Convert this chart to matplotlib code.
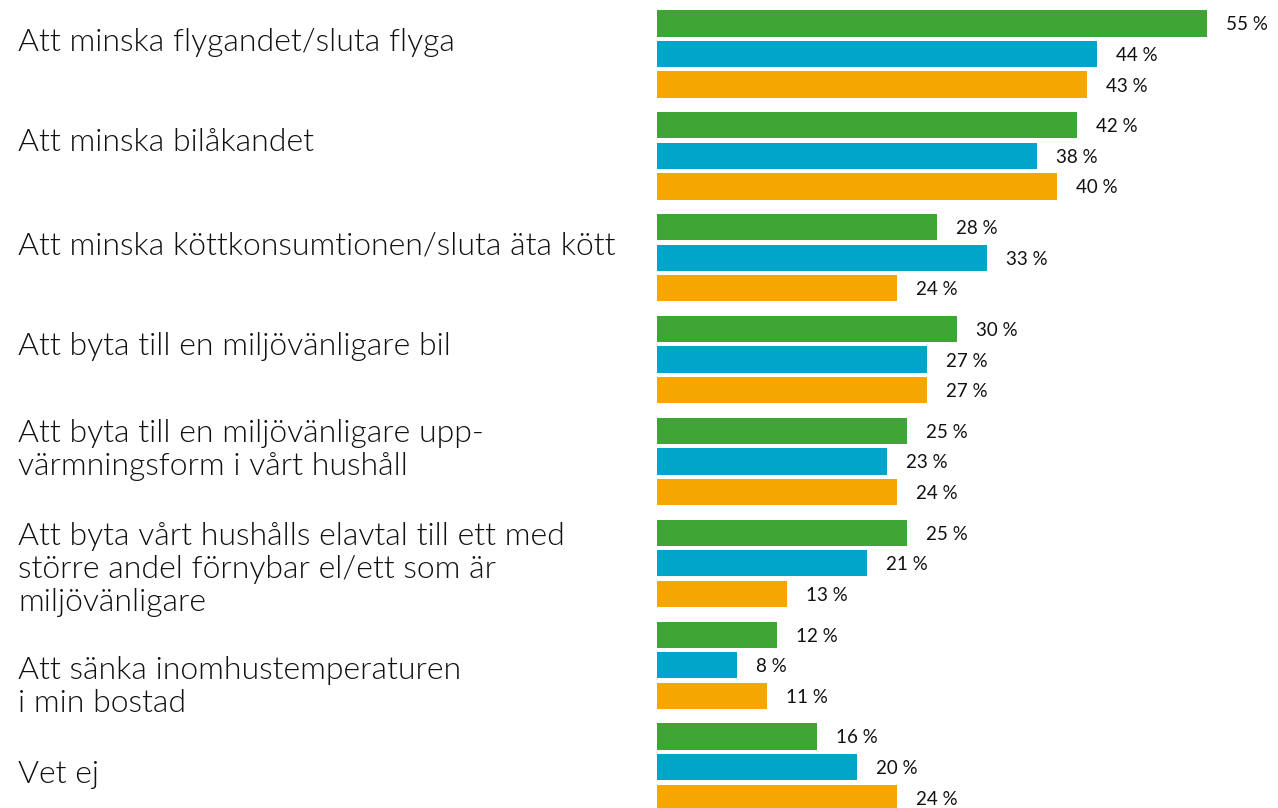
import matplotlib
matplotlib.use("Agg")
import matplotlib.pyplot as plt
from matplotlib import font_manager
from matplotlib.font_manager import FontProperties
import numpy as np

categories = [
    "Att minska flygandet/sluta flyga",
    "Att minska bilåkandet",
    "Att minska köttkonsumtionen/sluta äta kött",
    "Att byta till en miljövänligare bil",
    "Att byta till en miljövänligare upp-\nvärmningsform i vårt hushåll",
    "Att byta vårt hushålls elavtal till ett med\nstörre andel förnybar el/ett som är\nmiljövänligare",
    "Att sänka inomhustemperaturen\ni min bostad",
    "Vet ej",
]
series_green = [55, 42, 28, 30, 25, 25, 12, 16]
series_blue = [44, 38, 33, 27, 23, 21, 8, 20]
series_orange = [43, 40, 24, 27, 24, 13, 11, 24]

colors = ["#3FA535", "#00A5C9", "#F5A600"]

# layout (pixels): first-line baseline of each category label relative to group centre
label_baseline_px = [-3, -5, -3, -5, -19, -18, 14, 16]
line_step_px = 33
group_px = 101.86

paths = {}
for f in font_manager.fontManager.ttflist:
    for key in ("Lato-Light.ttf", "Lato-Regular.ttf"):
        if f.fname.endswith(key):
            paths[key] = f.fname

def fp(size, key):
    if key in paths:
        return FontProperties(fname=paths[key], size=size)
    return FontProperties(family="DejaVu Sans", size=size)

fig = plt.figure(figsize=(12.78, 8.08), dpi=100)
ax = fig.add_axes([657 / 1278, 0, 621 / 1278, 1])
ax.set_xlim(0, 62.1)
ax.set_ylim(7.402, -0.530)
ax.axis("off")

y = np.arange(len(categories))
offsets = [-0.3, 0.0, 0.3]
h = 0.257
for vals, off, c in zip([series_green, series_blue, series_orange], offsets, colors):
    ax.barh(y + off, vals, height=h, color=c, edgecolor="none")
    for yi, v in zip(y, vals):
        ax.text(v + 1.9, yi + off + 7 / group_px, f"{v} %", va="baseline", ha="left",
                fontproperties=fp(13.5, "Lato-Regular.ttf"), color="#111111")

for yi, lab, b in zip(y, categories, label_baseline_px):
    for k, line in enumerate(lab.split("\n")):
        ax.annotate(line, xy=(18 / 1278, 0), xycoords=("figure fraction", "data"),
                    xytext=(18 / 1278, yi + (b + k * line_step_px) / group_px),
                    textcoords=("figure fraction", "data"),
                    va="baseline", ha="left", fontproperties=fp(23, "Lato-Light.ttf"),
                    color="#111111", annotation_clip=False)

fig.savefig("out.png", dpi=100)
